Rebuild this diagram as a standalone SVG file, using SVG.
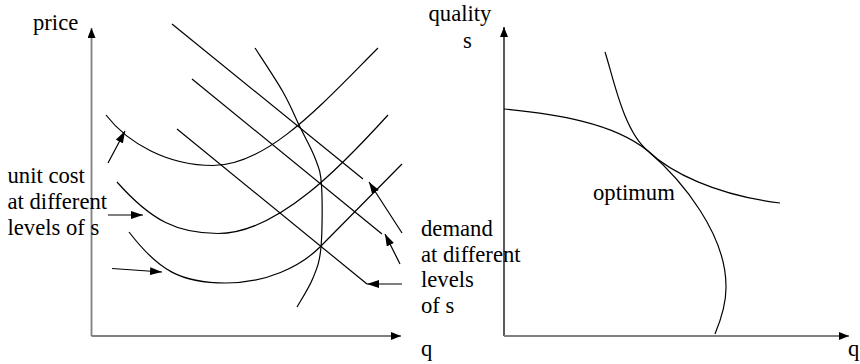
<svg xmlns="http://www.w3.org/2000/svg" width="860" height="364" viewBox="0 0 860 364">
<defs>
<style>
.t{font-family:"Liberation Serif","Times New Roman","Noto Serif","DejaVu Serif",serif;font-size:22.67px;fill:#000}
.c{fill:none;stroke:#000;stroke-width:1.2}
.ax{fill:none;stroke:#808080;stroke-width:1.8}
.axb{fill:none;stroke:#000;stroke-width:1.3}
.ar{fill:none;stroke:#000;stroke-width:1.2;marker-end:url(#ah)}
</style>
<marker id="ah" markerWidth="12" markerHeight="8" refX="12" refY="4" orient="auto" markerUnits="userSpaceOnUse"><path d="M0,0 L12,4 L0,8 z" fill="#000"/></marker>
<marker id="axh" markerWidth="10" markerHeight="8" refX="10" refY="4" orient="auto" markerUnits="userSpaceOnUse"><path d="M0,0 L10,4 L0,8 z" fill="#000"/></marker>
</defs>
<rect width="860" height="364" fill="#fff"/>
<g id="left-axes">
<line class="ax" x1="91.5" y1="336" x2="91.5" y2="28" marker-end="url(#axh)"/>
<line class="ax" x1="91.5" y1="336" x2="401" y2="336" marker-end="url(#axh)"/>
<text class="t" x="33" y="29.5" font-family="Liberation Serif, serif">price</text>
<text class="t" x="421" y="356">q</text>
</g>
<g id="demand-lines">
<line class="c" x1="172" y1="24" x2="363" y2="179"/>
<line class="c" x1="192" y1="79" x2="382" y2="234"/>
<line class="c" x1="177" y1="129" x2="367" y2="284"/>
</g>
<g id="cost-curves">
<path class="c" d="M106,115 C128,143.6 168,165.5 213,165.5 C268,165.5 323,103 378,48"/>
<path class="c" d="M117,182 C152,221.5 178,233.5 218,233.5 C278,233.5 343,164.5 388,115"/>
<path class="c" d="M129,232 C159,271 181,283 226,283 C266,283 300,267 320,247 L402,164"/>
</g>
<g id="locus-curve">
<path class="c" d="M255,48 C259.7,55.3 275.5,78.8 283,92 C290.5,105.2 294.7,116 300,127 C305.3,138 311.4,148.3 315,158 C318.6,167.7 320.5,170.2 321.5,185 C322.5,199.8 322.4,231.5 321,247 C319.6,262.5 317,268 313,278 C309,288 299.7,302.2 297,307"/>
</g>
<g id="unit-cost-label">
<text class="t" x="7.5" y="183">unit cost</text>
<text class="t" x="7.5" y="209">at different</text>
<text class="t" x="7.5" y="235">levels of s</text>
</g>
<g id="demand-label">
<text class="t" x="421" y="236">demand</text>
<text class="t" x="421" y="261.5">at different</text>
<text class="t" x="421" y="287">levels</text>
<text class="t" x="421" y="312.5">of s</text>
</g>
<g id="connectors">
<line class="ar" x1="108" y1="163" x2="125" y2="131"/>
<line class="ar" x1="108" y1="215" x2="143" y2="215"/>
<line class="ar" x1="112" y1="268.5" x2="162" y2="272"/>
<line class="ar" x1="402" y1="233" x2="369" y2="182"/>
<line class="ar" x1="400" y1="264" x2="385" y2="234"/>
<line class="ar" x1="402" y1="284" x2="367" y2="284"/>
</g>
<g id="right-axes">
<line class="axb" x1="504" y1="336" x2="504" y2="27" marker-end="url(#axh)"/>
<line class="ax" x1="504" y1="336" x2="849" y2="336" marker-end="url(#axh)"/>
<text class="t" x="428.5" y="21">quality</text>
<text class="t" x="463" y="48">s</text>
<text class="t" x="848" y="356">q</text>
</g>
<g id="frontier">
<path class="c" d="M504,109 C554,114 613,122.3 648,151 C682,180 727,235 726,288 C726,305 720,322 715,334"/>
</g>
<g id="indifference">
<path class="c" d="M605,52 C613,76 623,130.5 648,151 C670,172 715,195 780,203"/>
</g>
<g id="optimum-label">
<text class="t" x="593" y="200">optimum</text>
</g>
</svg>
